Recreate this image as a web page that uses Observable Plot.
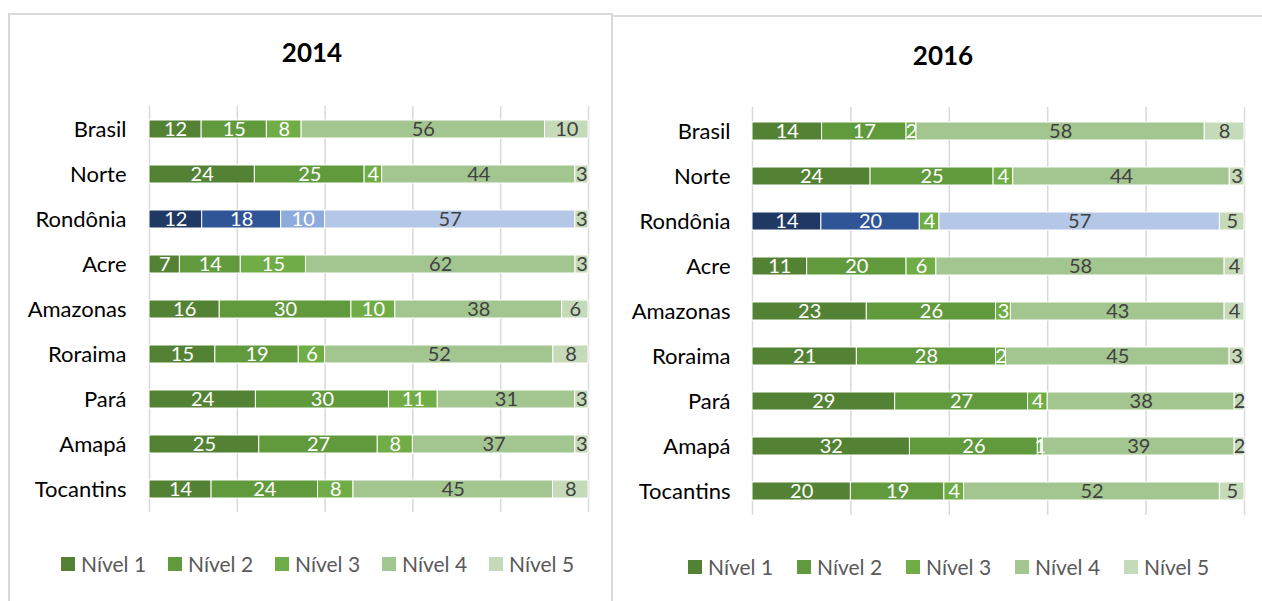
<!DOCTYPE html>
<html><head><meta charset="utf-8">
<script src="https://cdn.jsdelivr.net/npm/d3@7"></script>
<script src="https://cdn.jsdelivr.net/npm/@observablehq/plot@0.6"></script>
<style>
body{margin:0;background:#fff;width:1262px;height:601px;overflow:hidden;position:relative;font-family:Lato,sans-serif;}
.panel{position:absolute;box-sizing:border-box;}
.title{position:absolute;width:200px;text-align:center;font-weight:bold;font-size:26px;color:#000;line-height:1.2;}
.legend{position:absolute;display:flex;height:24px;align-items:center;font-size:21px;color:#595959;line-height:1.2;}
.legend .item{display:flex;align-items:center;flex:none;}
.legend .sw{width:14px;height:14px;margin-right:6px;flex:none;}
.chart{position:absolute;}
</style></head><body>
<div class="panel" style="left:8px;top:13px;width:605px;height:640px;border:2px solid #d9d9d9;border-bottom:none"></div>
<div class="panel" style="left:611px;top:15px;width:700px;height:640px;border-top:2px solid #d9d9d9;border-left:2px solid #d9d9d9"></div>
<script>
const regions = ["Brasil","Norte","Rondônia","Acre","Amazonas","Roraima","Pará","Amapá","Tocantins"];
const levels = ["Nível 1","Nível 2","Nível 3","Nível 4","Nível 5"];
const xTicks = [0,20,40,60,80,100];

// 2014 values per level (in region order)
const nivel1_2014 = [12,24,12,7,16,15,24,25,14];
const nivel2_2014 = [15,25,18,14,30,19,30,27,24];
const nivel3_2014 = [8,4,10,15,10,6,11,8,8];
const nivel4_2014 = [56,44,57,62,38,52,31,37,45];
const nivel5_2014 = [10,3,3,3,6,8,3,3,8];

// 2016 values per level (in region order)
const nivel1_2016 = [14,24,14,11,23,21,29,32,20];
const nivel2_2016 = [17,25,20,20,26,28,27,26,19];
const nivel3_2016 = [2,4,4,6,3,2,4,1,4];
const nivel4_2016 = [58,44,57,58,43,45,38,39,52];
const nivel5_2016 = [8,3,5,4,4,3,2,2,5];

const greens = ["#548235","#619a3c","#70ad47","#a3c590","#c5dab8"];
const rondonia2014 = ["#203864","#2f5597","#8faadc","#b4c7e7","#c5dab8"];
const rondonia2016 = ["#203864","#2f5597","#70ad47","#b4c7e7","#c5dab8"];
const labelColors = ["#ffffff","#ffffff","#ffffff","#404040","#404040"];

function buildTable(series, rondColors) {
  const rows = [];
  regions.forEach((r, i) => {
    series.forEach((arr, j) => {
      rows.push({region: r, li: j, value: arr[i],
        fill: r === "Rondônia" ? rondColors[j] : greens[j], tc: labelColors[j]});
    });
  });
  return rows;
}

function addPanel(cfg) {
  const table = buildTable(cfg.series, cfg.rond);
  const plot = Plot.plot({
    width: cfg.width, height: cfg.height,
    marginLeft: cfg.ml, marginRight: cfg.mr, marginTop: cfg.mt, marginBottom: cfg.mb,
    x: {domain: [0, 1], axis: null},
    y: {domain: regions, paddingInner: cfg.pi, paddingOuter: cfg.po, axis: null},
    color: {type: "identity"},
    marks: [
      Plot.ruleX(xTicks, {x: d => d / 100, stroke: "#d9d9d9", strokeWidth: 1.5}),
      Plot.barX(table, Plot.stackX({x: "value", y: "region", z: "li", offset: "normalize", fill: "fill", stroke: "white", strokeWidth: 1})),
      Plot.text(table, Plot.stackX({x: "value", y: "region", z: "li", offset: "normalize", text: d => String(d.value), fill: "tc", fontSize: 20})),
      Plot.axisY({tickSize: 0, tickPadding: cfg.tp, fontSize: 22, fill: "#000", label: null})
    ],
    style: {fontFamily: "Lato, sans-serif", color: "#000", background: "none", overflow: "visible", maxWidth: "none"}
  });
  plot.classList.add("chart");
  plot.style.left = cfg.left + "px";
  plot.style.top = cfg.top + "px";
  document.body.appendChild(plot);

  const t = document.createElement("div");
  t.className = "title";
  t.textContent = cfg.title;
  t.style.left = (cfg.titleX - 100) + "px";
  t.style.top = cfg.titleTop + "px";
  document.body.appendChild(t);

  const lg = document.createElement("div");
  lg.className = "legend";
  lg.style.left = cfg.legX + "px";
  lg.style.top = cfg.legY + "px";
  levels.forEach((l, j) => {
    const it = document.createElement("div");
    it.className = "item";
    it.style.width = cfg.legStep + "px";
    const sw = document.createElement("div");
    sw.className = "sw";
    sw.style.background = greens[j];
    const tx = document.createElement("span");
    tx.textContent = l;
    it.appendChild(sw); it.appendChild(tx);
    lg.appendChild(it);
  });
  document.body.appendChild(lg);
}

addPanel({title: "2014", series: [nivel1_2014,nivel2_2014,nivel3_2014,nivel4_2014,nivel5_2014], rond: rondonia2014,
  left: 0, top: 90, width: 612, height: 440, ml: 149, mr: 24, mt: 16, mb: 18, pi: 0.61, po: 0.305, tp: 23,
  titleX: 312, titleTop: 37, legX: 61, legY: 552, legStep: 107});
addPanel({title: "2016", series: [nivel1_2016,nivel2_2016,nivel3_2016,nivel4_2016,nivel5_2016], rond: rondonia2016,
  left: 612, top: 90, width: 650, height: 440, ml: 140, mr: 18, mt: 17, mb: 15, pi: 0.6, po: 0.3, tp: 22,
  titleX: 943, titleTop: 40, legX: 688, legY: 555, legStep: 109});
</script>
</body></html>
